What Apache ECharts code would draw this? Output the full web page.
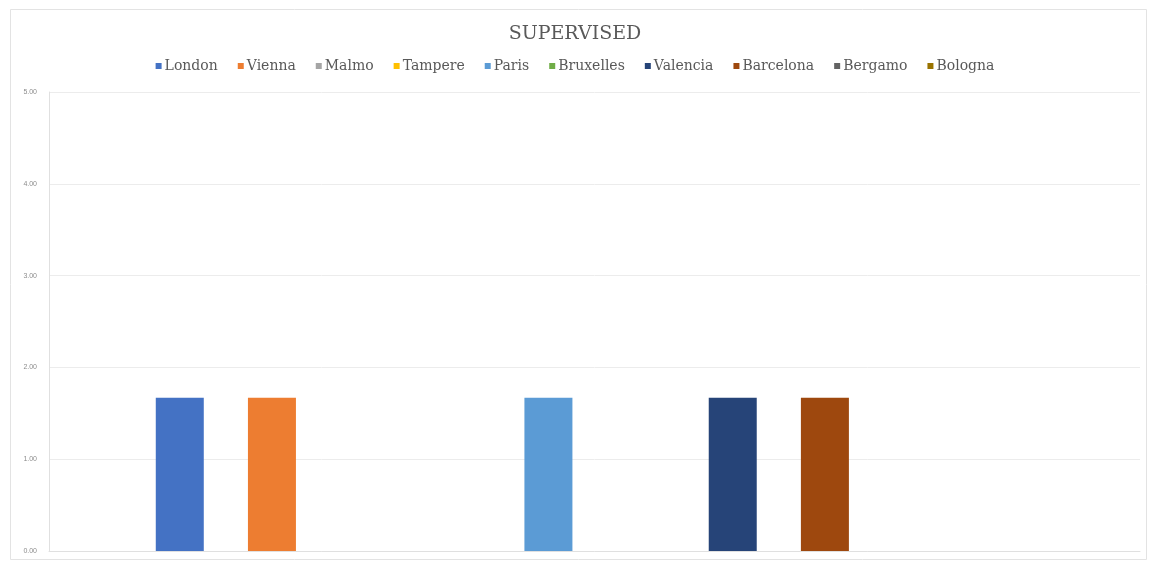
<!DOCTYPE html>
<html>
<head>
<meta charset="utf-8">
<style>
  html, body { margin: 0; padding: 0; background: #fff; }
  #chart { width: 1150px; height: 562px; }
</style>
<script src="https://cdn.jsdelivr.net/npm/echarts@6/dist/echarts.min.js"></script>
</head>
<body>
<div id="chart"></div>
<script>
// 城市（图例）
const cities = ['London', 'Vienna', 'Malmo', 'Tampere', 'Paris', 'Bruxelles', 'Valencia', 'Barcelona', 'Bergamo', 'Bologna'];
// 每个城市的数值
const values = [1.67, 1.67, 0, 0, 1.67, 0, 1.67, 1.67, 0, 0];
// 类目（只有一个）
const categories = ['SUPERVISED'];
// y 轴刻度
const yTicks = [0, 1, 2, 3, 4, 5];
// Excel 默认配色
const colors = ['#4472C4', '#ED7D31', '#A5A5A5', '#FFC000', '#5B9BD5', '#70AD47', '#264478', '#9E480E', '#636363', '#997300'];

const myChart = echarts.init(document.querySelector('#chart'));

const option = {
  color: colors,
  // 标题
  title: {
    text: 'SUPERVISED',
    left: 'center',
    top: 20,
    textStyle: {
      fontFamily: 'DejaVu Serif',
      fontWeight: 'normal',
      fontSize: 19,
      color: '#595959'
    }
  },
  legend: {
    top: 54,
    left: 'center',
    itemWidth: 6,
    itemHeight: 6,
    itemGap: 20,
    icon: 'rect',
    textStyle: {
      fontFamily: 'DejaVu Serif',
      fontSize: 14,
      color: '#595959',
      padding: [0, 0, 0, -2]
    },
    data: cities
  },
  // 外边框
  graphic: [{
    type: 'rect',
    shape: { x: 10.5, y: 9.5, width: 1136, height: 550 },
    style: { fill: 'none', stroke: '#e3e3e3', lineWidth: 1 },
    silent: true
  }],
  grid: {
    left: 49,
    right: 10,
    top: 92,
    bottom: 11
  },
  xAxis: {
    type: 'category',
    data: categories,
    axisLabel: { show: false },
    axisTick: { show: false },
    axisLine: { lineStyle: { color: '#e0e0e0' } }
  },
  yAxis: {
    type: 'value',
    min: yTicks[0],
    max: yTicks[yTicks.length - 1],
    interval: 1,
    axisLine: { show: true, lineStyle: { color: '#e0e0e0' } },
    axisTick: { show: false },
    splitLine: { lineStyle: { color: '#ececec' } },
    axisLabel: {
      fontSize: 7,
      color: '#8c8c8c',
      margin: 12,
      formatter: v => v.toFixed(2)
    }
  },
  series: cities.map((name, i) => ({
    name: name,
    type: 'bar',
    barWidth: 48,
    barGap: '92%',
    data: [values[i]]
  }))
};

myChart.setOption(option);
</script>
</body>
</html>
